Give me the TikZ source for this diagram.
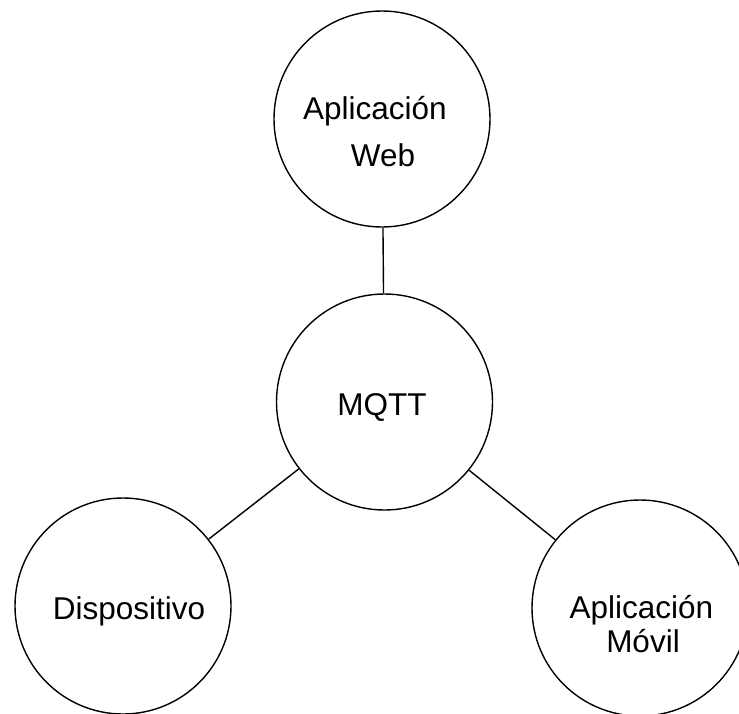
\documentclass[tikz,border=0pt]{standalone}
\usepackage{fontspec}
\setmainfont{Liberation Sans}
\begin{document}
\begin{tikzpicture}[x=1pt,y=-1pt,
  bubble/.style={draw=black, line width=1.4pt, circle, minimum size=216pt, inner sep=0pt, fill=white},
  link/.style={draw=black, line width=1.4pt},
  lbl/.style={anchor=base, inner sep=0pt, font=\fontsize{31.5}{36}\selectfont}]
  \useasboundingbox (0,0) rectangle (739,713);
  % the four circles
  \node[bubble] (mqtt)  at (384.5,402) {};
  \node[bubble] (web)   at (382,119) {};
  \node[bubble] (disp)  at (123,606) {};
  \node[bubble] (movil) at (640,608) {};
  % connectors from the broker to each client
  \draw[link] (web) -- (mqtt);
  \draw[link] (mqtt) -- (disp);
  \draw[link] (mqtt) -- (movil);
  % labels
  \node[lbl] (webA)  at (375,119) {Aplicación};
  \node[lbl] (webB)  at (383,166) {Web};
  \node[lbl] (mqttT) at (382,415) {MQTT};
  \node[lbl] (dispT) at (129,619) {Dispositivo};
  \node[lbl] (movA)  at (641.5,618) {Aplicación};
  \node[lbl] (movB)  at (643,652) {Móvil};
\end{tikzpicture}
\end{document}
